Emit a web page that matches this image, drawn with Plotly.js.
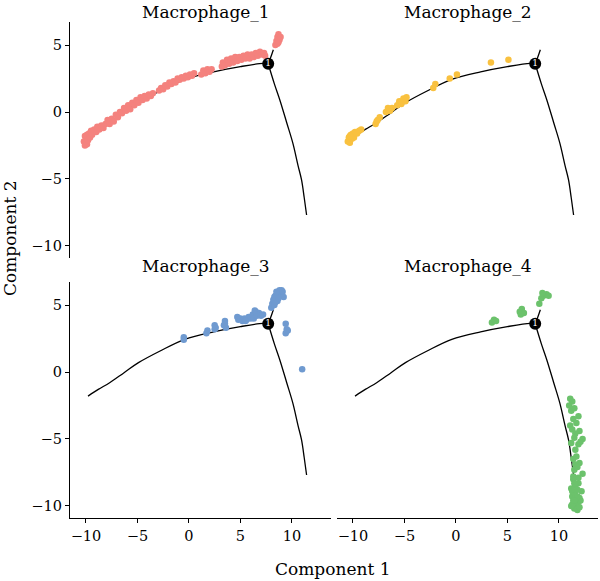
<!DOCTYPE html>
<html>
<head>
<meta charset="utf-8">
<script src="https://cdn.plot.ly/plotly-3.0.1.min.js"></script>
<style>html,body{margin:0;padding:0;background:#fff}#chart{width:600px;height:581px}</style>
</head>
<body>
<div id="chart"></div>
<script>
// Trajectory (shared across facets)
const armLeftX = [-9.8, -8.8, -7.7, -6.3, -4.9, -2.8, -0.4, 2.4, 5.0, 7.2, 7.7];
const armLeftY = [-1.8, -1.3, -0.8, -0.05, 0.7, 1.57, 2.44, 3.0, 3.39, 3.63, 3.6];
const armUpX = [7.7, 8.0, 8.2];
const armUpY = [3.6, 4.2, 4.65];
const armDownX = [7.7, 8.3, 8.83, 9.5, 10.1, 10.6, 10.94, 11.2, 11.43];
const armDownY = [3.6, 2.1, 0.9, -0.8, -2.34, -4.0, -5.07, -6.4, -7.69];
const branchX = [7.7];
const branchY = [3.6];
const branchLabel = ["1"];

const panels = ["Macrophage_1", "Macrophage_2", "Macrophage_3", "Macrophage_4"];
const colors = ["#F4827E", "#F9C13F", "#6F9AD0", "#6CC26C"];

const mac1X = [-10.2,-10.1,-10.0,-10.1,-9.9,-9.9,-9.8,-9.7,-9.6,-9.5,-9.4,-9.2,-9.0,-8.9,-8.7,-8.5,-8.3,-8.1,-7.9,-7.7,-7.5,-7.3,-7.1,-6.9,-6.7,-6.5,-6.3,-6.1,-5.9,-5.7,-5.5,-5.3,-5.1,-4.9,-4.7,-4.5,-4.3,-4.1,-3.9,-3.7,-3.5,-2.9,-2.7,-2.5,-2.3,-2.1,-1.9,-1.7,-1.5,-1.3,-1.1,-0.9,-0.7,-0.5,-0.3,-0.1,0.1,0.3,0.5,1.2,1.4,1.6,1.8,2.0,2.2,3.2,3.3,3.5,3.7,3.9,4.1,4.3,4.5,4.7,4.9,5.1,5.3,5.5,5.7,5.9,6.1,6.3,6.5,6.7,6.9,7.1,7.3,7.4,8.4,8.5,8.6,8.7,8.8,8.6,8.9,8.7];
const mac1Y = [-2.2,-2.5,-2.0,-1.8,-2.4,-1.7,-2.1,-1.6,-1.9,-1.4,-1.7,-1.3,-1.5,-1.1,-1.3,-1.0,-1.2,-0.9,-0.6,-0.9,-0.5,-0.7,-0.2,-0.4,0.0,-0.1,0.3,0.1,0.5,0.2,0.7,0.5,0.9,0.7,1.1,0.9,1.2,1.0,1.3,1.2,1.4,1.6,1.8,1.7,2.0,1.9,2.2,2.1,2.3,2.2,2.5,2.4,2.6,2.5,2.7,2.6,2.8,2.7,2.9,2.8,3.1,2.9,3.2,3.0,3.2,3.4,3.7,3.5,3.9,3.6,4.0,3.7,4.1,3.8,4.1,3.9,4.2,4.0,4.3,4.0,4.3,4.1,4.4,4.2,4.5,4.3,4.4,4.2,5.0,5.3,5.6,5.8,5.4,5.1,5.6,5.2];

const mac2X = [-10.5,-10.4,-10.3,-10.2,-10.1,-10.0,-9.9,-9.8,-9.6,-9.4,-9.2,-10.3,-7.8,-7.6,-7.4,-7.7,-6.8,-6.6,-6.4,-6.2,-5.7,-5.5,-5.3,-5.1,-4.9,-4.8,-2.2,-2.0,-0.6,0.1,3.4,5.1];
const mac2Y = [-2.2,-1.9,-2.3,-1.7,-2.0,-1.6,-1.9,-1.5,-1.6,-1.4,-1.3,-1.8,-0.9,-0.6,-0.4,-0.7,0.0,0.3,0.1,0.3,0.5,0.8,0.6,1.0,0.8,1.1,1.8,2.1,2.5,2.8,3.7,3.9];

const mac3X = [-0.5,-0.5,1.7,1.8,2.5,2.5,2.6,3.4,3.5,3.6,3.5,4.7,4.8,5.0,5.2,5.4,5.6,5.8,6.0,6.2,6.3,6.5,6.6,6.8,7.0,7.2,6.4,5.5,8.0,8.1,8.2,8.3,8.4,8.5,8.6,8.7,8.8,8.9,9.0,9.1,8.6,8.8,9.2,8.4,8.3,8.7,9.0,8.5,9.4,9.5,9.4,9.6,11.0];
const mac3Y = [2.6,2.4,2.9,3.1,3.2,3.5,3.3,3.5,3.8,3.3,3.6,4.1,3.9,4.0,3.8,4.0,3.9,4.1,4.0,4.3,4.0,4.5,4.2,4.4,4.2,4.3,4.6,3.8,4.8,5.1,5.4,5.0,5.7,5.5,5.9,6.0,5.7,5.9,5.8,6.0,5.3,6.1,5.6,5.2,5.6,5.5,6.1,6.0,3.6,3.2,2.9,3.1,0.2];

const mac4X = [3.5,3.7,3.9,6.2,6.4,6.6,6.3,8.1,8.3,8.5,8.8,8.4,9.0,11.1,11.3,11.0,11.2,11.5,11.9,11.4,11.7,11.1,11.3,12.0,11.6,11.5,12.3,11.9,11.2,12.1,11.6,11.7,11.4,12.0,11.6,11.5,12.3,11.8,11.4,11.4,11.9,11.6,11.2,12.2,11.5,11.8,12.0,11.3,11.4,11.7,11.9,11.7,11.5,11.3,12.1,11.6,11.8,11.2,12.0,11.5,11.9,11.3,11.6,11.8,11.5];
const mac4Y = [3.7,3.9,3.8,4.5,4.7,4.4,4.3,5.1,5.5,5.7,5.8,5.9,5.7,-2.0,-2.2,-2.5,-2.9,-2.7,-3.3,-3.5,-3.8,-4.0,-4.3,-4.4,-4.6,-4.9,-5.0,-5.4,-5.3,-5.2,-5.8,-6.3,-6.5,-6.8,-6.9,-7.3,-7.6,-7.1,-7.8,-8.0,-8.3,-8.5,-8.7,-8.9,-9.1,-8.8,-9.4,-9.3,-9.6,-9.8,-9.7,-10.0,-10.2,-9.9,-9.6,-9.5,-10.3,-10.0,-10.1,-8.3,-7.9,-8.9,-9.2,-9.3,-9.6];

const cellsX = [mac1X, mac2X, mac3X, mac4X];
const cellsY = [mac1Y, mac2Y, mac3Y, mac4Y];

const xTicks = [-10, -5, 0, 5, 10];
const yTicks = [-10, -5, 0, 5];

const FONT = "DejaVu Serif";
const traces = [];
for (let i = 0; i < 4; i++) {
  const xa = i === 0 ? "x" : "x" + (i + 1);
  const ya = i === 0 ? "y" : "y" + (i + 1);
  [[armLeftX, armLeftY], [armUpX, armUpY], [armDownX, armDownY]].forEach(function (a) {
    traces.push({x: a[0], y: a[1], xaxis: xa, yaxis: ya, mode: "lines", type: "scatter",
      line: {color: "#000", width: 1.3, shape: "spline", smoothing: 1}, hoverinfo: "skip", showlegend: false});
  });
  traces.push({x: cellsX[i], y: cellsY[i], xaxis: xa, yaxis: ya, mode: "markers", type: "scatter",
    marker: {color: colors[i], size: 6.5, line: {width: 0}}, showlegend: false, name: panels[i]});
  traces.push({x: branchX, y: branchY, text: branchLabel, xaxis: xa, yaxis: ya, mode: "markers+text", type: "scatter",
    textposition: "middle center", textfont: {color: "#fff", size: 9, family: FONT},
    marker: {color: "#000", size: 12, line: {width: 0}}, showlegend: false});
}

const xr = [-11.55, 13.8];
const yr = [-10.9, 6.72];
const dL = [70/600, 331/600], dR = [337/600, 598/600];
const dT = [1 - 258/581, 1 - 22/581], dB = [1 - 518/581, 1 - 282/581];

function ax(domain, range, anchor, show, tickvals) {
  const o = {domain: domain, range: range, anchor: anchor, showgrid: false, zeroline: false,
    fixedrange: true};
  if (show) {
    Object.assign(o, {showline: true, linecolor: "#000", linewidth: 1.2, ticks: "outside", ticklen: 4,
      tickcolor: "#000", tickwidth: 1, tickvals: tickvals, ticktext: tickvals.map(v => v < 0 ? "\u2212" + Math.abs(v) : String(v)),
      tickfont: {family: FONT, size: 14.5, color: "#000"}, showticklabels: true});
  } else {
    Object.assign(o, {showline: false, ticks: "", showticklabels: false});
  }
  return o;
}

function ann(text, xpx, ypx, extra) {
  return Object.assign({text: text, x: xpx / 600, y: 1 - ypx / 581, xref: "paper", yref: "paper",
    xanchor: "center", yanchor: "middle", showarrow: false, font: {size: 17, family: FONT, color: "#000"}}, extra || {});
}

const layout = {
  width: 600, height: 581,
  margin: {l: 0, r: 0, t: 0, b: 0},
  paper_bgcolor: "#fff", plot_bgcolor: "#fff",
  showlegend: false,
  font: {family: FONT, color: "#000"},
  xaxis: ax(dL, xr, "y", false, xTicks),
  yaxis: ax(dT, yr, "x", true, yTicks),
  xaxis2: ax(dR, xr, "y2", false, xTicks),
  yaxis2: ax(dT, yr, "x2", false, yTicks),
  xaxis3: ax(dL, xr, "y3", true, xTicks),
  yaxis3: ax(dB, yr, "x3", true, yTicks),
  xaxis4: ax(dR, xr, "y4", true, xTicks),
  yaxis4: ax(dB, yr, "x4", false, yTicks),
  annotations: [
    ann(panels[0], 206, 12),
    ann(panels[1], 468, 12),
    ann(panels[2], 206, 266),
    ann(panels[3], 468, 266),
    ann("Component 1", 333, 569),
    ann("Component 2", 10, 238, {textangle: -90})
  ]
};

Plotly.newPlot("chart", traces, layout, {staticPlot: true, displayModeBar: false});
</script>
</body>
</html>
